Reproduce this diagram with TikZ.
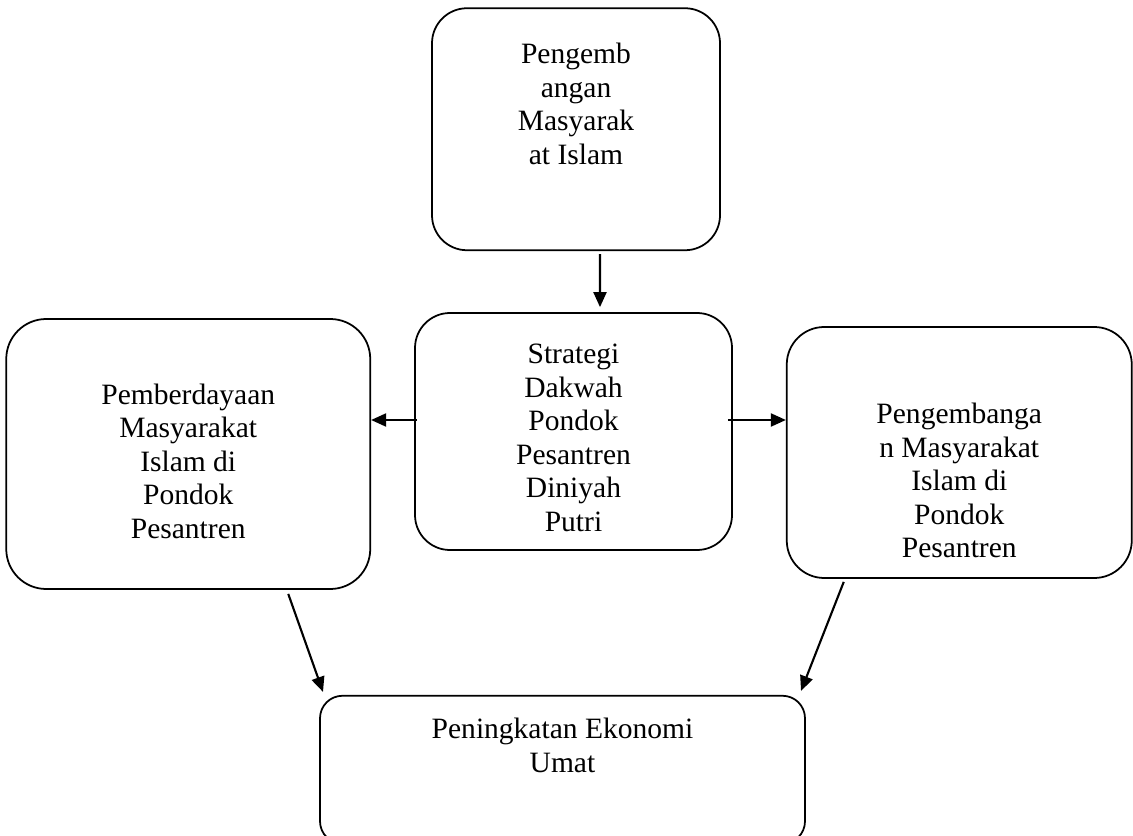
\documentclass[tikz,border=0pt]{standalone}
\usepackage{fontspec}
\setmainfont{Liberation Serif}
\usetikzlibrary{arrows.meta,positioning}

\begin{document}
\begin{tikzpicture}[box/.style={rounded corners=.75cm,draw,line width=1pt,align=center,inner sep=0pt,font=\fontsize{16.8}{19.1}\selectfont},arrow/.style={-{Triangle[length=.3cm,width=.26cm]},line width=1.2pt}]
 \useasboundingbox (0,0) rectangle (22.66,-16.72);
 \node[box,minimum width=6.34cm,minimum height=4.74cm,rounded corners=.7cm] (strategi) at (11.47,-8.63) {\rule{0pt}{.64cm}Strategi\\Dakwah\\Pondok\\Pesantren\\Diniyah\\Putri};
 \node[box,minimum width=5.76cm,minimum height=4.84cm,rounded corners=.7cm,above=1.22cm of strategi,xshift=.05cm] (asal) {Pengemb\\angan\\Masyarak\\at Islam\rule[-1.02cm]{0pt}{0pt}};
 \node[box,minimum width=7.28cm,minimum height=5.4cm,rounded corners=.8cm,left=.86cm of strategi,yshift=-.45cm] (pemberdayaan) {\rule{0pt}{.7cm}Pemberdayaan\\Masyarakat\\Islam di\\Pondok\\Pesantren};
 \node[box,minimum width=6.9cm,minimum height=5.02cm,right=1.06cm of strategi,yshift=-.42cm] (pengembangan) {\rule{0pt}{1.54cm}Pengembanga\\n Masyarakat\\Islam di\\Pondok\\Pesantren};
 \node[box,minimum width=9.7cm,minimum height=2.96cm,rounded corners=.45cm,below=2.88cm of strategi,xshift=-.22cm] (ekonomi) {Peningkatan Ekonomi\\Umat\rule[-.98cm]{0pt}{0pt}};
 \draw[arrow] ([xshift=.48cm,yshift=-.06cm]asal.south) -- ([xshift=.53cm,yshift=.1cm]strategi.north);
 \coordinate (kiri) at ([xshift=.06cm,yshift=.23cm]strategi.west);
 \coordinate (kanan) at ([xshift=-.1cm,yshift=.23cm]strategi.east);
 \draw[arrow] (kiri) -- (kiri -| pemberdayaan.east);
 \draw[arrow] (kanan) -- (kanan -| pengembangan.west);
 \draw[arrow] ([xshift=2cm,yshift=-.08cm]pemberdayaan.south) -- ([xshift=-4.79cm,yshift=.06cm]ekonomi.north);
 \draw[arrow] ([xshift=-2.31cm,yshift=-.06cm]pengembangan.south) -- ([xshift=4.77cm,yshift=.08cm]ekonomi.north);
\end{tikzpicture}
\end{document}
